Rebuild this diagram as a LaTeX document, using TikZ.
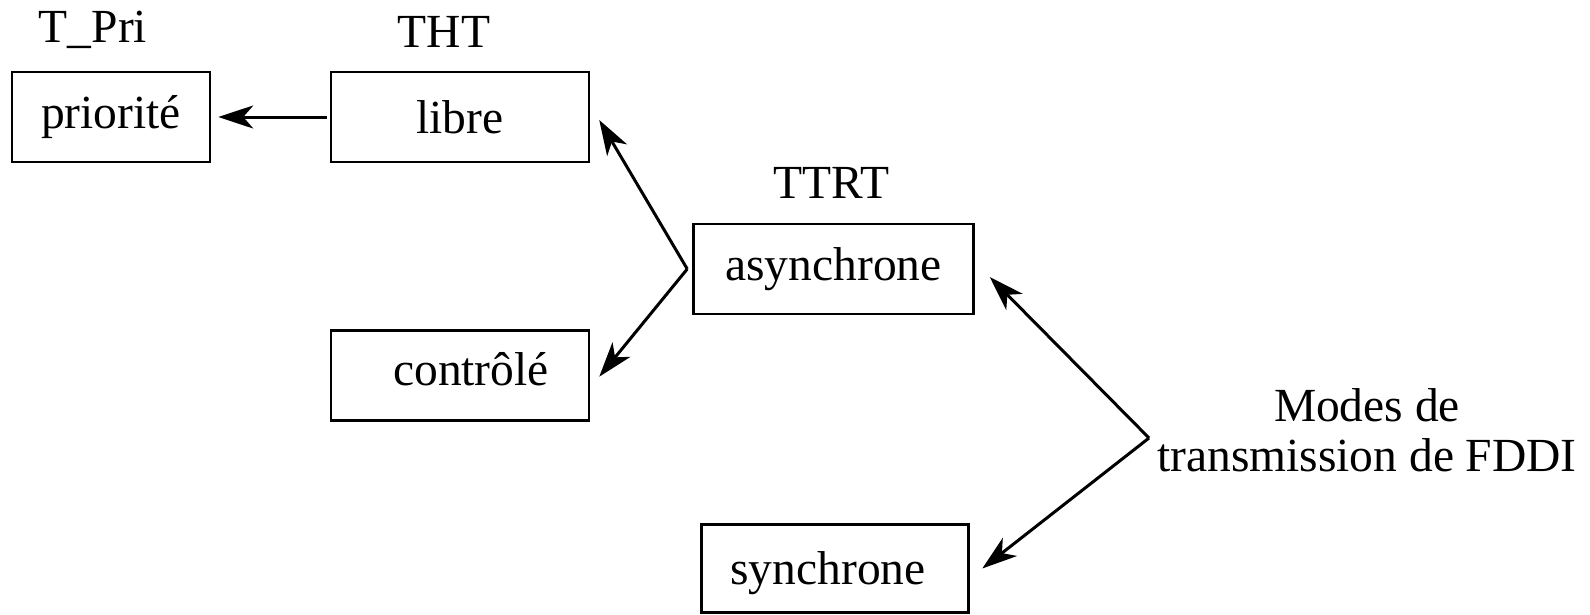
\documentclass[tikz,border=0pt]{standalone}
\usepackage{fontspec}
\setmainfont{Liberation Serif}
\usetikzlibrary{arrows.meta}
\begin{document}
\begin{tikzpicture}[x=1pt,y=-1pt,
  box/.style={draw,line width=2.5pt,inner sep=0pt,minimum height=90pt},
  lbl/.style={inner sep=0pt,anchor=base},
  conn/.style={line width=3pt,-{Stealth[length=35pt,width=23pt,inset=10pt]}},
  every node/.style={font=\fontsize{47.5}{50}\selectfont}]
\useasboundingbox (0,0) rectangle (1590,614);
% boxes
\node[box,minimum width=198pt] (prio) at (111,117) {priorité};
\node[box,minimum width=258pt] (libre) at (460,117) {libre};
\node[box,minimum width=280pt] (async) at (833.5,269) {asynchrone};
\node[box,minimum width=258pt] (ctrl) at (460,375.7)
  {\raisebox{7pt}[\height][\depth]{\hspace*{22pt}contrôlé}};
\node[box,minimum width=267pt,minimum height=88pt] (sync) at (835,568.5)
  {\raisebox{-5pt}[\height][\depth]{synchrone\hspace*{14pt}}};
% labels above the boxes
\node[lbl] (tpri) at (93,42.6) {T\_Pri};
\node[lbl] (tht) at (444,47.7) {THT};
\node[lbl] (ttrt) at (831.5,198.7) {TTRT};
\node[inner sep=0pt,align=center] (modes) at (1367,430) {Modes de\\transmission de FDDI};
% fork points and arrow ends (offsets in picture units, y pointing down)
\coordinate (f1) at ([xshift=-5pt]async.west);
\coordinate (f2) at ([shift={(-8,8)}]modes.west);
\coordinate (t1) at ([shift={(9,3)}]libre.east);
\coordinate (t2) at ([shift={(9,1)}]ctrl.east);
\coordinate (t3) at ([shift={(15,8)}]async.east);
\coordinate (t4) at ([shift={(12.5,0)}]sync.east);
% connectors
\draw[conn] ([xshift=-3pt]libre.west) -- ([xshift=7pt]prio.east);
\draw[conn] (f1) -- (t1);
\draw[conn] (f1) -- (t2);
\draw[conn] (f2) -- (t3);
\draw[conn] (f2) -- (t4);
\end{tikzpicture}
\end{document}
